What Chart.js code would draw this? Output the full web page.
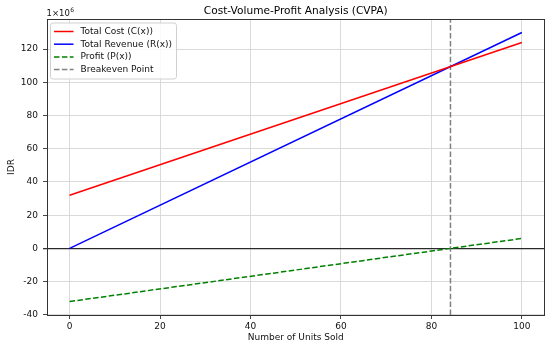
<!DOCTYPE html>
<html><head><meta charset="utf-8">
<script src="https://cdn.jsdelivr.net/npm/chart.js@4.4.0/dist/chart.umd.min.js"></script>
<style>html,body{margin:0;padding:0;background:#fff}#wrap{width:550px;height:347px}</style>
</head><body><div id="wrap"><canvas id="c" width="550" height="347"></canvas></div>
<script>
// ---- data (values in millions of IDR) ----
const units = [0, 100];
const totalCost = [32, 124];
const totalRevenue = [0, 130];
const profit = [-32, 6];
const breakevenUnits = 84.21;
const xTicks = [0, 20, 40, 60, 80, 100];
const yTicks = [-40, -20, 0, 20, 40, 60, 80, 100, 120];
const xRange = [-5, 105];
const yRange = [-40.1, 138.1];
const seriesLabels = ['Total Cost (C(x))', 'Total Revenue (R(x))', 'Profit (P(x))', 'Breakeven Point'];
const chartTitle = 'Cost-Volume-Profit Analysis (CVPA)';
const xTitle = 'Number of Units Sold';
const yTitle = 'IDR';

const FONT = "'DejaVu Sans', sans-serif";
const pts = (xs, ys) => xs.map((x, i) => ({x: x, y: ys[i]}));

const decor = {
  id: 'decor',
  afterDatasetsDraw(chart) {
    const ctx = chart.ctx, a = chart.chartArea;
    ctx.save();
    // axes frame
    ctx.strokeStyle = '#333';
    ctx.lineWidth = 1;
    ctx.strokeRect(Math.round(a.left) + 0.5, Math.round(a.top) + 0.5, Math.round(a.width) - 1, Math.round(a.height));
    // legend
    const bx = a.left + 3.5, by = a.top + 4, bw = 126, bh = 56;
    ctx.beginPath();
    ctx.roundRect(bx, by, bw, bh, 2.5);
    ctx.fillStyle = 'rgba(255,255,255,0.85)';
    ctx.fill();
    ctx.strokeStyle = '#d0d0d0';
    ctx.lineWidth = 1;
    ctx.stroke();
    ctx.font = '9px ' + FONT;
    ctx.textBaseline = 'middle';
    ctx.textAlign = 'left';
    chart.data.datasets.forEach((ds, i) => {
      const y = by + 8.5 + i * 12.7;
      ctx.beginPath();
      ctx.setLineDash(ds.borderDash || []);
      ctx.strokeStyle = ds.borderColor;
      ctx.lineWidth = ds.borderWidth;
      ctx.moveTo(bx + 3.5, y);
      ctx.lineTo(bx + 23, y);
      ctx.stroke();
      ctx.setLineDash([]);
      ctx.fillStyle = '#111';
      ctx.fillText(ds.label, bx + 30, y);
    });
    // title
    ctx.font = '10.6px ' + FONT;
    ctx.textAlign = 'center';
    ctx.fillStyle = '#000';
    ctx.fillText(chartTitle, (a.left + a.right) / 2, 11.5);
    // offset text
    ctx.textAlign = 'left';
    ctx.font = '8.5px ' + FONT;
    ctx.fillStyle = '#111';
    ctx.fillText('1×10', a.left - 0.5, 13.5);
    const w = ctx.measureText('1×10').width;
    ctx.font = '6px ' + FONT;
    ctx.fillText('6', a.left - 0.5 + w + 0.5, 10.5);
    ctx.restore();
  }
};

const tickFont = {family: FONT, size: 9};
new Chart(document.getElementById('c'), {
  type: 'line',
  data: {
    datasets: [
      {label: seriesLabels[0], data: pts(units, totalCost), borderColor: '#ff0000', borderWidth: 1.5, pointRadius: 0, fill: false},
      {label: seriesLabels[1], data: pts(units, totalRevenue), borderColor: '#0000ff', borderWidth: 1.5, pointRadius: 0, fill: false},
      {label: seriesLabels[2], data: pts(units, profit), borderColor: '#008000', borderWidth: 1.5, borderDash: [5.5, 2.4], pointRadius: 0, fill: false},
      {label: seriesLabels[3], data: pts([breakevenUnits, breakevenUnits], yRange), borderColor: '#808080', borderWidth: 1.5, borderDash: [5.5, 2.4], pointRadius: 0, fill: false}
    ]
  },
  options: {
    responsive: false,
    animation: false,
    devicePixelRatio: 1,
    layout: {padding: {top: 19, right: 5.5, left: 0, bottom: 0}},
    plugins: {legend: {display: false}, tooltip: {enabled: false}, title: {display: false}},
    scales: {
      x: {
        type: 'linear', min: xRange[0], max: xRange[1],
        afterBuildTicks: s => { s.ticks = xTicks.map(v => ({value: v})); },
        afterFit: s => { s.height = 32; },
        grid: {color: '#d6d6d6', lineWidth: 0.9, tickLength: 4, tickColor: '#333'},
        border: {display: false},
        ticks: {font: tickFont, color: '#111', padding: 2, maxRotation: 0, autoSkip: false, callback: v => String(v)},
        title: {display: true, text: xTitle, font: tickFont, color: '#111', padding: {top: 0, bottom: 4}}
      },
      y: {
        type: 'linear', min: yRange[0], max: yRange[1],
        afterBuildTicks: s => { s.ticks = yTicks.map(v => ({value: v})); },
        afterFit: s => { s.width = 47; },
        grid: {
          color: c => (c.tick && c.tick.value === 0) ? '#2a2a2a' : '#d6d6d6',
          lineWidth: c => (c.tick && c.tick.value === 0) ? 1.3 : 0.9,
          tickLength: 4, tickColor: '#333'
        },
        border: {display: false},
        ticks: {font: tickFont, color: '#111', padding: 5, autoSkip: false, callback: v => String(v)},
        title: {display: true, text: yTitle, font: tickFont, color: '#111', padding: {top: 6, bottom: 0}}
      }
    }
  },
  plugins: [decor]
});
</script></body></html>
